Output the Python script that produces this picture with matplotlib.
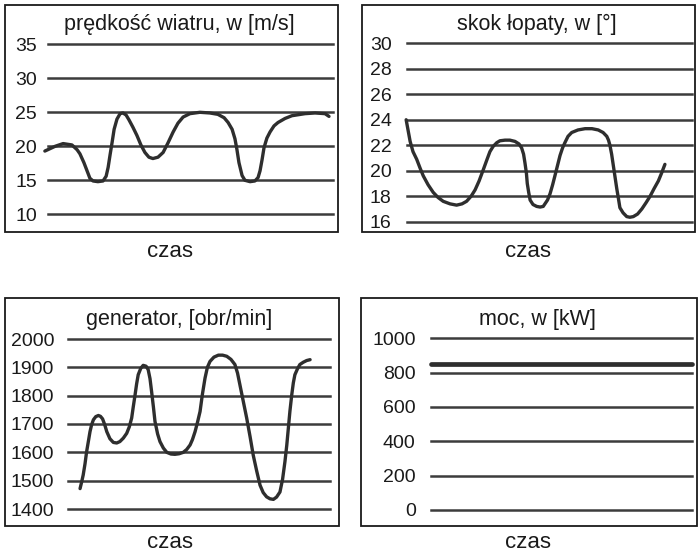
import numpy as np
import matplotlib.pyplot as plt
from matplotlib.patches import Rectangle

plt.rcParams['font.family'] = ['Liberation Sans', 'DejaVu Sans']

# czas w jednostkach umownych (0-100 = szerokość siatki)
t_wiatr = [-1.1, 2.5, 5.3, 8.4, 10.2, 11.2, 12.6, 13.7, 14.7, 15.8, 17.5, 19.3, 20.4, 21.1,
           21.8, 22.5, 23.2, 24.2, 25.3, 26.3, 27.4, 28.4, 29.8, 31.2, 32.6, 34.0, 35.4,
           36.8, 38.6, 40.4, 42.1, 43.9, 45.6, 47.4, 49.8, 53.3, 56.8, 59.6, 61.8, 63.2,
           64.6, 65.6, 66.3, 67.0, 68.1, 69.1, 70.9, 72.6, 73.7, 74.4, 75.1, 75.8, 76.8,
           77.9, 79.3, 80.7, 83.2, 85.6, 90.2, 93.7, 97.2, 98.6]
v_wiatr = [19.3, 20.0, 20.4, 20.2, 19.5, 18.9, 17.6, 16.4, 15.3, 14.9, 14.8, 14.9, 15.6, 16.9,
           18.8, 20.6, 22.5, 24.0, 24.8, 24.9, 24.6, 23.9, 22.8, 21.6, 20.2, 19.1, 18.4,
           18.2, 18.4, 19.1, 20.5, 22.1, 23.4, 24.3, 24.8, 25.0, 24.9, 24.7, 24.2, 23.5,
           22.5, 21.1, 19.5, 17.6, 15.7, 15.0, 14.8, 14.9, 15.4, 16.4, 18.0, 19.8, 21.2,
           22.1, 23.0, 23.5, 24.1, 24.5, 24.8, 24.9, 24.8, 24.4]

t_skok = [-0.3, 1.1, 2.1, 3.4, 4.6, 5.7, 7.4, 9.2, 10.9, 12.7, 15.1, 17.4, 19.3, 20.9, 22.5,
          23.9, 25.3, 26.8, 28.1, 29.1, 30.2, 31.5, 32.6, 34.4, 36.1, 37.9, 39.3, 40.2,
          40.9, 41.4, 41.9, 42.2, 42.7, 43.2, 44.2, 45.5, 46.7, 47.8, 48.4, 49.3, 50.2,
          51.1, 51.9, 52.8, 53.7, 54.6, 55.4, 56.5, 57.8, 60.0, 62.5, 64.9, 67.1, 68.8,
          70.1, 70.7, 71.2, 71.8, 72.4, 73.0, 73.6, 74.2, 74.7, 75.8, 77.1, 78.2, 79.4,
          80.9, 82.4, 83.9, 85.3, 86.7, 88.2, 89.3, 90.5]
v_skok = [24.0, 22.3, 21.5, 20.9, 20.2, 19.6, 18.9, 18.3, 17.9, 17.6, 17.4, 17.3, 17.4, 17.6,
          18.0, 18.5, 19.2, 20.1, 20.9, 21.5, 21.9, 22.2, 22.35, 22.4, 22.4, 22.3, 22.1,
          21.8, 21.3, 20.6, 19.8, 19.0, 18.3, 17.7, 17.35, 17.2, 17.15, 17.2, 17.4, 17.7,
          18.2, 18.9, 19.6, 20.4, 21.2, 21.8, 22.2, 22.7, 23.0, 23.2, 23.3, 23.3, 23.2,
          23.0, 22.7, 22.4, 22.0, 21.3, 20.4, 19.5, 18.6, 17.8, 17.1, 16.7, 16.4, 16.35,
          16.4, 16.6, 17.0, 17.5, 18.0, 18.6, 19.2, 19.8, 20.5]

t_gen = [4.6, 5.2, 5.8, 6.5, 7.1, 7.8, 8.4, 9.0, 9.7, 10.6, 11.6, 12.4, 13.2, 14.0, 14.8,
         16.0, 17.3, 18.6, 19.8, 21.1, 22.4, 23.4, 24.3, 24.9, 25.6, 26.2, 26.8, 27.8,
         28.7, 29.8, 30.6, 31.3, 31.9, 32.6, 33.2, 34.2, 35.1, 36.4, 37.7, 39.3, 40.8,
         42.4, 44.0, 45.3, 46.6, 47.5, 48.5, 49.4, 50.4, 51.3, 52.3, 53.2, 54.2, 55.7,
         57.4, 59.0, 60.6, 62.2, 63.7, 64.7, 65.6, 66.9, 68.2, 69.5, 70.7, 72.0, 73.3,
         74.5, 75.8, 77.1, 78.4, 79.6, 80.9, 81.9, 82.8, 83.5, 84.1, 84.7, 85.4, 86.0,
         86.6, 87.6, 88.5, 89.8, 91.1, 92.4]
v_gen = [1472, 1495, 1520, 1560, 1602, 1640, 1673, 1697, 1715, 1726, 1730, 1727, 1718, 1698,
         1673, 1648, 1635, 1633, 1638, 1650, 1667, 1690, 1721, 1760, 1803, 1842, 1874,
         1897, 1907, 1904, 1892, 1860, 1815, 1760, 1709, 1665, 1638, 1615, 1600, 1594,
         1593, 1595, 1600, 1610, 1626, 1645, 1673, 1705, 1744, 1805, 1862, 1900, 1921,
         1936, 1943, 1943, 1939, 1928, 1910, 1880, 1839, 1780, 1721, 1655, 1590, 1535,
         1484, 1458, 1443, 1436, 1434, 1442, 1460, 1505, 1567, 1625, 1685, 1745, 1803,
         1845, 1874, 1895, 1910, 1918, 1924, 1927]

t_moc = [0, 100]
v_moc = [853, 853]

ticks_wiatr = [10, 15, 20, 25, 30, 35]
ticks_skok = [16, 18, 20, 22, 24, 26, 28, 30]
ticks_gen = [1400, 1500, 1600, 1700, 1800, 1900, 2000]
ticks_moc = [0, 200, 400, 600, 800, 1000]

W, H = 700, 554
fig = plt.figure(figsize=(W / 100, H / 100), dpi=100)

def px_ax(x0, x1, ytop, ybot):
    return fig.add_axes([x0 / W, 1 - ybot / H, (x1 - x0) / W, (ybot - ytop) / H])

def panel(box, grid, t, v, ticks, title, title_xy, czas_xy, pad, lw=2.4):
    bx0, by0, bx1, by1 = box
    fig.add_artist(Rectangle((bx0 / W, 1 - by1 / H), (bx1 - bx0) / W, (by1 - by0) / H,
                             transform=fig.transFigure, fill=False, ec='#1a1a1a', lw=1.3))
    ax = px_ax(*grid)
    ax.plot(t, v, color='#2e2e2e', lw=lw, clip_on=False, solid_capstyle='round')
    ax.set_xlim(0, 100)
    ax.set_ylim(ticks[0], ticks[-1])
    ax.set_yticks(ticks)
    ax.set_xticks([])
    ax.tick_params(axis='y', length=0, pad=pad, labelsize=14, labelcolor='#1a1a1a')
    ax.grid(axis='y', color='#3c3c3c', lw=1.8)
    for gl in ax.get_ygridlines():
        gl.set_clip_on(False)
    ax.set_axisbelow(True)
    for s in ax.spines.values():
        s.set_visible(False)
    ax.patch.set_alpha(0)
    fig.text(title_xy[0] / W, 1 - title_xy[1] / H, title, ha='center', va='baseline',
             fontsize=15.5, color='#1a1a1a')
    fig.text(czas_xy[0] / W, 1 - czas_xy[1] / H, 'czas', ha='center', va='baseline',
             fontsize=16, color='#1a1a1a')
    return ax

panel((5, 5, 338, 232), (48, 333, 44.3, 214.3), t_wiatr, v_wiatr, ticks_wiatr,
      'prędkość wiatru, w [m/s]', (179, 30), (170, 257), 8)
panel((362, 5, 695, 232), (407, 692, 43.3, 221.7), t_skok, v_skok, ticks_skok,
      'skok łopaty, w [°]', (537, 30), (528, 257), 11)
panel((5, 298, 339, 526), (68, 330, 339, 509), t_gen, v_gen, ticks_gen,
      'generator, [obr/min]', (179, 325), (170, 548), 10)
panel((361, 298, 697, 526), (431, 692, 338.3, 510), t_moc, v_moc, ticks_moc,
      'moc, w [kW]', (537, 325), (528, 548), 11, lw=3.4)

fig.savefig('out.png', dpi=100)
